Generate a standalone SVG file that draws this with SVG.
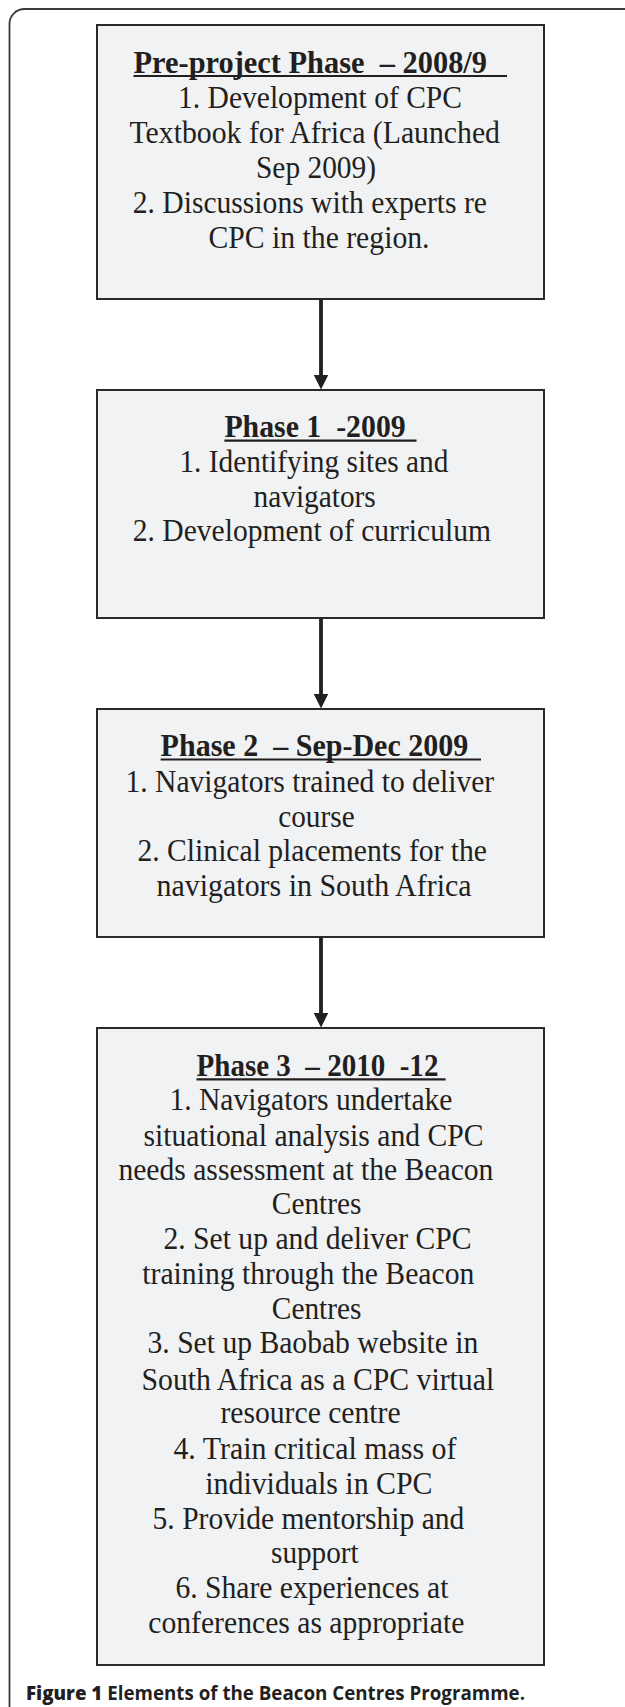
<svg xmlns="http://www.w3.org/2000/svg" width="625" height="1707" viewBox="0 0 625 1707">
<style>
.box{fill:#f1f2f3;stroke:#2a2a2a;stroke-width:2}
.t{font-family:"Liberation Serif","Times New Roman",serif;font-size:32px;fill:#231f20}
.h{font-family:"Liberation Serif","Times New Roman",serif;font-size:31px;font-weight:bold;fill:#231f20}
.ul{stroke:#231f20;stroke-width:2.2}
.conn{stroke:#231f20;stroke-width:3.8;fill:none;marker-end:url(#ah)}
.frame{fill:none;stroke:#3a3a3a;stroke-width:1.8}
.cap{font-family:"Open Sans","Noto Sans","Liberation Sans",sans-serif;font-size:19px;fill:#231f20}
</style>
<defs>
<marker id="ah" markerUnits="userSpaceOnUse" markerWidth="15" markerHeight="15" refX="4" refY="7.5" orient="auto" viewBox="0 0 15 15">
<path d="M0,0 L15,7.5 L0,15 z" fill="#231f20"/>
</marker>
</defs>
<path class="frame" d="M9.5,1707 V24 A15,15 0 0 1 24.5,9 H625"/>

<g id="connectors">
<line class="conn" x1="321" y1="300" x2="321" y2="378.5"/>
<line class="conn" x1="321" y1="619" x2="321" y2="697.5"/>
<line class="conn" x1="321" y1="938" x2="321" y2="1016.5"/>
</g>

<g id="node-preproject">
<rect class="box" x="97" y="25" width="447" height="274"/>
<text class="h" x="133.5" y="72.5" textLength="353.5" lengthAdjust="spacingAndGlyphs" xml:space="preserve">Pre-project Phase  – 2008/9</text>
<line class="ul" x1="133.5" y1="76" x2="507" y2="76"/>
<text class="t" x="178" y="108.3" textLength="284" lengthAdjust="spacingAndGlyphs">1. Development of CPC</text>
<text class="t" x="129.5" y="142.7" textLength="370.5" lengthAdjust="spacingAndGlyphs">Textbook for Africa (Launched</text>
<text class="t" x="256" y="177.7" textLength="120" lengthAdjust="spacingAndGlyphs">Sep 2009)</text>
<text class="t" x="132.7" y="212.7" textLength="354.3" lengthAdjust="spacingAndGlyphs">2. Discussions with experts re</text>
<text class="t" x="208.5" y="247.7" textLength="221" lengthAdjust="spacingAndGlyphs">CPC in the region.</text>
</g>

<g id="node-phase1">
<rect class="box" x="97" y="390" width="447" height="228"/>
<text class="h" x="224.4" y="437.3" textLength="181.3" lengthAdjust="spacingAndGlyphs" xml:space="preserve">Phase 1  -2009</text>
<line class="ul" x1="224.4" y1="440.7" x2="416.5" y2="440.7"/>
<text class="t" x="179.4" y="472.3" textLength="269" lengthAdjust="spacingAndGlyphs">1. Identifying sites and</text>
<text class="t" x="253.5" y="506.7" textLength="122.3" lengthAdjust="spacingAndGlyphs">navigators</text>
<text class="t" x="132.7" y="540.7" textLength="358.3" lengthAdjust="spacingAndGlyphs">2. Development of curriculum</text>
</g>

<g id="node-phase2">
<rect class="box" x="97" y="709" width="447" height="228"/>
<text class="h" x="160.6" y="756" textLength="307.7" lengthAdjust="spacingAndGlyphs" xml:space="preserve">Phase 2  – Sep-Dec 2009</text>
<line class="ul" x1="160.6" y1="759.5" x2="481" y2="759.5"/>
<text class="t" x="125.5" y="791.7" textLength="368.7" lengthAdjust="spacingAndGlyphs">1. Navigators trained to deliver</text>
<text class="t" x="278.2" y="826.7" textLength="76.5" lengthAdjust="spacingAndGlyphs">course</text>
<text class="t" x="137.5" y="860.7" textLength="349.5" lengthAdjust="spacingAndGlyphs">2. Clinical placements for the</text>
<text class="t" x="156.6" y="896" textLength="314.9" lengthAdjust="spacingAndGlyphs">navigators in South Africa</text>
</g>

<g id="node-phase3">
<rect class="box" x="97" y="1028" width="447" height="637"/>
<text class="h" x="196.5" y="1076" textLength="241.9" lengthAdjust="spacingAndGlyphs" xml:space="preserve">Phase 3  – 2010  -12</text>
<line class="ul" x1="196.5" y1="1079.3" x2="445.6" y2="1079.3"/>
<text class="t" x="169.4" y="1110" textLength="283" lengthAdjust="spacingAndGlyphs">1. Navigators undertake</text>
<text class="t" x="143.5" y="1145.7" textLength="340" lengthAdjust="spacingAndGlyphs">situational analysis and CPC</text>
<text class="t" x="118.4" y="1180" textLength="375" lengthAdjust="spacingAndGlyphs">needs assessment at the Beacon</text>
<text class="t" x="271.8" y="1214.3" textLength="89.7" lengthAdjust="spacingAndGlyphs">Centres</text>
<text class="t" x="163.4" y="1249.3" textLength="308.1" lengthAdjust="spacingAndGlyphs">2. Set up and deliver CPC</text>
<text class="t" x="142.3" y="1284" textLength="332" lengthAdjust="spacingAndGlyphs">training through the Beacon</text>
<text class="t" x="271.8" y="1319" textLength="89.7" lengthAdjust="spacingAndGlyphs">Centres</text>
<text class="t" x="147.5" y="1353.3" textLength="330.8" lengthAdjust="spacingAndGlyphs">3. Set up Baobab website in</text>
<text class="t" x="141.5" y="1390" textLength="352.7" lengthAdjust="spacingAndGlyphs">South Africa as a CPC virtual</text>
<text class="t" x="220.4" y="1423.3" textLength="180.2" lengthAdjust="spacingAndGlyphs">resource centre</text>
<text class="t" x="173.4" y="1459" textLength="283" lengthAdjust="spacingAndGlyphs">4. Train critical mass of</text>
<text class="t" x="205.3" y="1494" textLength="227.1" lengthAdjust="spacingAndGlyphs">individuals in CPC</text>
<text class="t" x="152.6" y="1529" textLength="311.7" lengthAdjust="spacingAndGlyphs">5. Provide mentorship and</text>
<text class="t" x="271" y="1563" textLength="87.7" lengthAdjust="spacingAndGlyphs">support</text>
<text class="t" x="175.4" y="1598.3" textLength="273" lengthAdjust="spacingAndGlyphs">6. Share experiences at</text>
<text class="t" x="148.3" y="1633.3" textLength="316" lengthAdjust="spacingAndGlyphs">conferences as appropriate</text>
</g>

<text class="cap" x="26" y="1700" textLength="499" lengthAdjust="spacingAndGlyphs"><tspan font-weight="900">Figure 1</tspan><tspan font-weight="700"> Elements of the Beacon Centres Programme.</tspan></text>
</svg>
